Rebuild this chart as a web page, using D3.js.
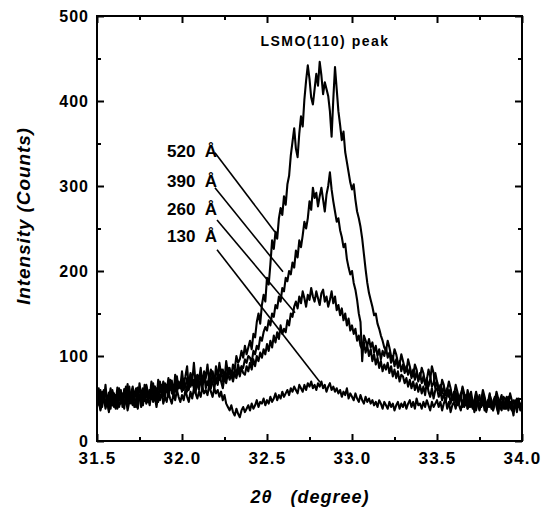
<!DOCTYPE html>
<html>
<head>
<meta charset="utf-8">
<script src="https://cdn.jsdelivr.net/npm/d3@7"></script>
<style>
  body { margin: 0; background: #fff; }
  svg text { font-family: "Liberation Sans", Arial, sans-serif; font-weight: bold; fill: #000; }
</style>
</head>
<body>
<svg id="chart"></svg>
<script>
const width = 548, height = 511;

// 2theta sampling grid (degree), one point every 0.01
const theta_start = 31.5, theta_step = 0.01;

// intensity (counts) for each film thickness (rows of 0.1 deg)
const s520 = [
  50,62,41,58,47,66,44,57,38,60, 52,45,63,48,58,40,61,50,67,46,
  56,64,49,60,44,68,53,62,47,65, 58,50,70,55,64,48,72,57,66,52,
  68,58,74,60,71,55,78,62,70,64, 82,66,76,88,62,80,70,92,68,78,
  72,86,66,82,74,90,70,84,76,68, 88,74,92,78,84,72,94,80,86,76,
  90,84,100,92,96,106,98,112,102,110, 118,108,126,122,140,150,138,160,172,164,
  192,184,208,236,226,246,238,262,274,266, 288,278,302,312,336,352,368,344,334,362,
  382,370,402,424,442,426,404,396,414,432, 418,446,430,408,422,414,406,388,358,402,
  440,414,388,372,354,364,340,328,316,304, 296,302,284,270,262,252,238,220,202,186,
  174,166,158,148,150,138,132,124,118,110, 106,118,110,100,96,108,102,92,90,102,
  94,86,82,96,88,78,76,90,84,72, 74,86,80,68,72,84,76,64,68,80,
  70,60,58,72,66,54,60,70,62,50, 54,66,58,46,52,64,56,44,60,50,
  58,46,40,56,50,38,48,60,52,42, 40,54,48,38,46,58,50,40,36,52,
  50,38,44,56,48,36,40,50,46,36, 44];
const s390 = [
  44,56,38,52,60,42,50,36,58,48, 40,54,46,62,44,52,38,57,49,64,
  46,58,52,40,63,50,56,44,66,54, 48,60,54,68,50,62,46,70,58,64,
  52,66,60,72,56,64,58,76,62,68, 58,70,64,74,60,78,66,72,56,76,
  64,74,62,80,70,66,76,62,82,72, 68,78,72,84,70,80,74,86,78,82,
  76,84,80,90,82,88,86,96,92,100, 98,92,106,102,112,108,122,118,128,134,
  130,142,136,150,146,160,156,170,164,180, 176,192,188,200,196,210,204,224,216,236,
  228,242,258,250,262,282,272,298,286,292, 276,288,298,284,270,290,300,316,296,282,
  270,258,262,248,240,228,232,214,204,196, 200,186,178,166,150,140,94,124,118,112,
  120,110,116,104,112,100,108,96,106,100, 110,98,104,92,100,88,96,86,94,82,
  90,80,88,78,86,74,84,72,82,70, 80,68,76,66,74,64,72,88,80,62,
  70,60,66,56,64,54,62,52,60,48, 58,46,56,44,54,62,48,42,52,40,
  50,38,48,58,44,36,46,54,42,34, 46,56,40,36,50,44,32,48,54,38,
  44,52,36,46,40,30,48,42,50,38, 42];
const s260 = [
  54,46,60,40,52,58,44,50,62,42, 56,48,38,54,60,46,52,64,44,58,
  50,42,56,62,48,54,40,58,52,66, 46,60,54,50,64,56,48,62,58,70,
  56,64,52,68,60,54,70,58,66,62, 72,60,66,58,74,64,70,62,76,66,
  60,72,66,78,62,70,64,74,68,62, 74,66,78,70,62,76,68,80,72,78,
  70,80,74,84,76,86,80,78,88,82, 92,84,96,88,100,94,104,98,108,102,
  114,106,118,110,124,116,128,120,136,126, 132,128,142,136,150,146,158,164,156,170,
  162,176,168,158,172,166,180,170,164,176, 168,160,174,178,164,170,158,166,176,162,
  170,154,160,148,156,142,150,136,144,130, 136,126,132,118,124,112,108,116,104,112,
  100,108,94,102,90,98,86,94,82,90, 84,92,80,88,76,84,74,82,70,78,
  76,68,74,64,72,62,70,60,68,58, 66,56,64,54,70,58,52,62,50,60,
  62,52,58,48,56,46,54,60,44,52, 48,58,42,50,56,40,48,54,38,46,
  52,42,48,36,46,54,40,44,50,36, 44,50,38,46,52,40,34,48,42,50,
  38,46,52,40,36,48,44,34,46,40, 46];
const s130 = [
  40,48,36,44,52,38,46,34,50,42, 46,38,52,40,48,56,42,50,36,46,
  44,52,40,48,38,54,46,42,56,44, 50,42,56,46,52,40,54,48,58,44,
  52,46,58,50,44,56,48,60,52,46, 54,48,60,52,46,58,50,62,56,50,
  58,52,64,56,60,54,66,58,52,62, 56,60,52,58,48,54,44,40,36,42,
  34,30,38,32,28,36,40,34,38,42, 36,44,38,42,48,40,46,44,50,42,
  48,44,52,46,50,56,48,54,50,58, 52,56,60,54,62,58,64,60,56,66,
  62,58,66,60,68,64,70,62,66,60, 68,64,70,62,66,58,64,68,60,64,
  58,62,56,60,52,58,54,62,50,56, 52,48,56,50,46,54,48,44,52,46,
  50,44,48,42,46,40,48,44,38,46, 42,38,46,40,44,36,42,46,38,44,
  40,46,38,44,48,40,46,38,50,42, 44,38,46,40,48,42,36,46,40,44,
  48,40,46,36,44,50,38,46,34,42, 46,38,50,42,36,48,40,52,38,44,
  40,46,34,44,50,38,42,48,36,44, 48,40,44,36,46,52,38,44,40,46,
  38,44,50,40,46,36,42,48,40,44, 40];

const series = [s520, s390, s260, s130];
const thickness_labels = ["520", "390", "260", "130"];
// leader line ends [theta, counts] from label to curve
const leader_start = [[32.194, 339], [32.194, 298], [32.206, 260], [32.206, 225]];
const leader_end = [[32.547, 246], [32.594, 199], [32.665, 151], [32.812, 69]];
const label_counts = [334, 299, 266, 234];  // label baselines
const label_theta = 31.912;

const x_ticks = [31.5, 32.0, 32.5, 33.0, 33.5, 34.0];
const y_ticks = [0, 100, 200, 300, 400, 500];

const margin = {left: 97, right: 26, top: 16, bottom: 70};

const svg = d3.select("#chart")
    .attr("width", width)
    .attr("height", height);

const x = d3.scaleLinear().domain([31.5, 34.0]).range([margin.left, width - margin.right]);
const y = d3.scaleLinear().domain([0, 500]).range([height - margin.bottom, margin.top]);

const x0 = x.range()[0], x1 = x.range()[1], y0 = y.range()[0], y1 = y.range()[1];

// data curves
const line = d3.line()
    .x((d, i) => x(theta_start + theta_step * i))
    .y(d => y(d));

svg.append("g")
    .selectAll("path")
    .data(series)
    .join("path")
    .attr("d", d => line(d))
    .attr("fill", "none")
    .attr("stroke", "#000")
    .attr("stroke-width", 2.1)
    .attr("stroke-linejoin", "round");

// axes, ticks inward on all four sides
const x_minor = d3.range(31.75, 34, 0.5);
const y_minor = d3.range(50, 500, 100);

function style_axis(g) {
    g.select(".domain").remove();
    g.selectAll(".tick line").attr("stroke", "#000").attr("stroke-width", 2);
}

svg.append("g")
    .attr("transform", `translate(0,${y0})`)
    .call(d3.axisBottom(x).tickValues(x_ticks).tickSize(-7).tickPadding(11).tickFormat(d3.format(".1f")))
    .call(style_axis)
    .call(g => g.selectAll("text").attr("font-size", 17).attr("letter-spacing", 1.2).attr("dy", "0.71em"));
svg.append("g")
    .attr("transform", `translate(0,${y0})`)
    .call(d3.axisBottom(x).tickValues(x_minor).tickSize(-4).tickFormat(""))
    .call(style_axis);
svg.append("g")
    .attr("transform", `translate(0,${y1})`)
    .call(d3.axisTop(x).tickValues(x_ticks).tickSize(-7).tickFormat(""))
    .call(style_axis);
svg.append("g")
    .attr("transform", `translate(0,${y1})`)
    .call(d3.axisTop(x).tickValues(x_minor).tickSize(-4).tickFormat(""))
    .call(style_axis);

svg.append("g")
    .attr("transform", `translate(${x0},0)`)
    .call(d3.axisLeft(y).tickValues(y_ticks).tickSize(-7).tickPadding(8))
    .call(style_axis)
    .call(g => g.selectAll("text").attr("font-size", 16).attr("letter-spacing", 1));
svg.append("g")
    .attr("transform", `translate(${x0},0)`)
    .call(d3.axisLeft(y).tickValues(y_minor).tickSize(-4).tickFormat(""))
    .call(style_axis);
svg.append("g")
    .attr("transform", `translate(${x1},0)`)
    .call(d3.axisRight(y).tickValues(y_ticks).tickSize(-7).tickFormat(""))
    .call(style_axis);
svg.append("g")
    .attr("transform", `translate(${x1},0)`)
    .call(d3.axisRight(y).tickValues(y_minor).tickSize(-4).tickFormat(""))
    .call(style_axis);

// frame
svg.append("rect")
    .attr("x", x0).attr("y", y1)
    .attr("width", x1 - x0).attr("height", y0 - y1)
    .attr("fill", "none")
    .attr("stroke", "#000")
    .attr("stroke-width", 2);

// leader lines
svg.append("g")
    .selectAll("line")
    .data(leader_start)
    .join("line")
    .attr("x1", d => x(d[0])).attr("y1", d => y(d[1]))
    .attr("x2", (d, i) => x(leader_end[i][0])).attr("y2", (d, i) => y(leader_end[i][1]))
    .attr("stroke", "#000")
    .attr("stroke-width", 1.6);

svg.append("g")
    .selectAll("text")
    .data(thickness_labels)
    .join("text")
    .attr("x", x(label_theta))
    .attr("y", (d, i) => y(label_counts[i]))
    .attr("font-size", 17)
    .text(d => d + "\u00A0\u00A0Å");

// titles
svg.append("text")
    .attr("x", 325).attr("y", 46)
    .attr("text-anchor", "middle")
    .attr("font-size", 14)
    .attr("letter-spacing", 1.5)
    .text("LSMO(110) peak");

svg.append("text")
    .attr("x", 310).attr("y", 503)
    .attr("text-anchor", "middle")
    .attr("font-size", 18)
    .attr("font-style", "italic")
    .attr("letter-spacing", 1)
    .text("2θ\u00A0\u00A0 (degree)");

svg.append("text")
    .attr("transform", "translate(30,216) rotate(-90)")
    .attr("text-anchor", "middle")
    .attr("font-size", 19)
    .attr("font-style", "italic")
    .attr("letter-spacing", 0.9)
    .text("Intensity (Counts)");
</script>
</body>
</html>
